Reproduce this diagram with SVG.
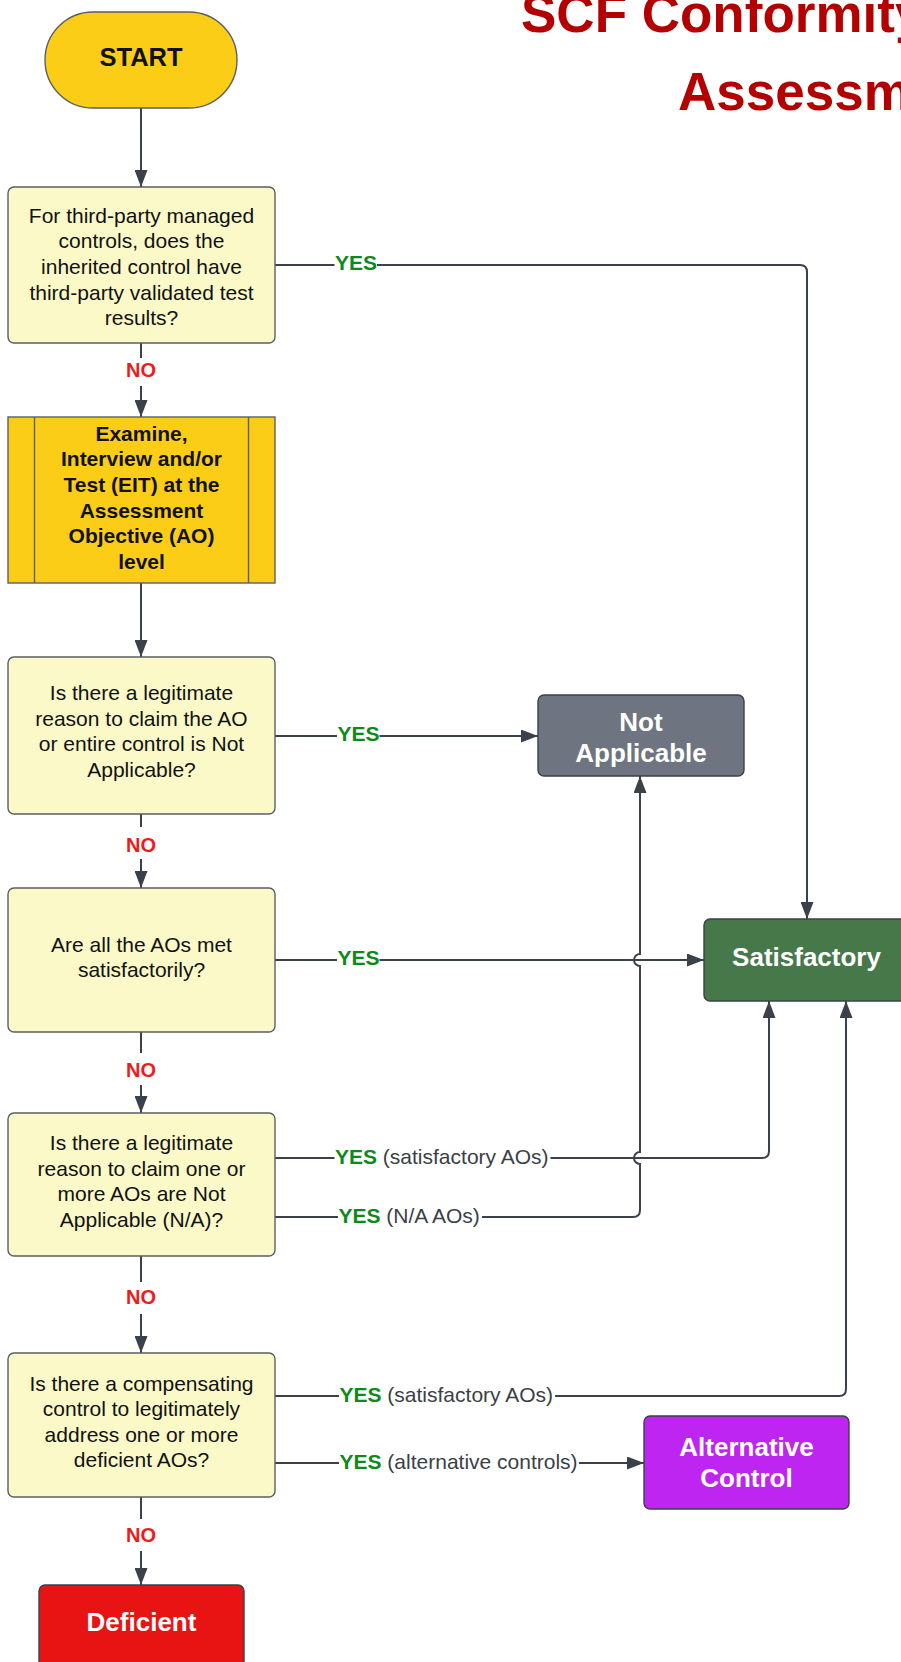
<svg xmlns="http://www.w3.org/2000/svg" width="901" height="1662" viewBox="0 0 901 1662">
<style>
.q{fill:#fbf9c8;stroke:#5a5f66;stroke-width:1.4}
.t{font-family:"Liberation Sans",Arial,sans-serif;font-size:21px;fill:#111;text-anchor:middle}
.tb{font-family:"Liberation Sans",Arial,sans-serif;font-size:21px;font-weight:bold;fill:#111;text-anchor:middle}
.w{font-family:"Liberation Sans",Arial,sans-serif;font-size:26px;font-weight:bold;fill:#fff;text-anchor:middle}
.c{fill:none;stroke:#3a414a;stroke-width:2}
.bg{fill:#fff}
.yes{font-family:"Liberation Sans",Arial,sans-serif;font-size:21px;font-weight:bold;fill:#0c8a1a}
.sub{font-weight:normal;fill:#3a3f45}
.no{font-family:"Liberation Sans",Arial,sans-serif;font-size:20px;font-weight:bold;fill:#ee1b1b;text-anchor:middle}
.title{font-family:"Liberation Sans",Arial,sans-serif;font-size:53px;font-weight:bold;fill:#b30000}
</style>
<defs>
<marker id="arr" viewBox="0 0 17 13" refX="17" refY="6.5" markerWidth="17" markerHeight="13" markerUnits="userSpaceOnUse" orient="auto">
<path d="M0,0 L17,6.5 L0,13 Z" fill="#3a414a"/>
</marker>
</defs>

<g id="title">
<text class="title" x="521" y="32">SCF Conformity</text>
<text class="title" x="678" y="110">Assessm</text>
</g>

<g id="connectors">
<path class="c" d="M141 108 V187" marker-end="url(#arr)"/>
<path class="c" d="M141 343 V417" marker-end="url(#arr)"/>
<path class="c" d="M141 583 V657" marker-end="url(#arr)"/>
<path class="c" d="M141 814 V888" marker-end="url(#arr)"/>
<path class="c" d="M141 1032 V1113" marker-end="url(#arr)"/>
<path class="c" d="M141 1256 V1353" marker-end="url(#arr)"/>
<path class="c" d="M141 1497 V1585" marker-end="url(#arr)"/>
<path class="c" d="M275 265 H800 Q807 265 807 272 V919" marker-end="url(#arr)"/>
<path class="c" d="M275 736 H538" marker-end="url(#arr)"/>
<path class="c" d="M275 960 H704" marker-end="url(#arr)"/>
<path class="c" d="M275 1158 H762 Q769 1158 769 1151 V1001" marker-end="url(#arr)"/>
<path class="c" d="M275 1217 H633 Q640 1217 640 1210 V1164 A6 6 0 0 1 640 1152 V966 A6 6 0 0 1 640 954 V776" marker-end="url(#arr)"/>
<path class="c" d="M275 1396 H839 Q846 1396 846 1389 V1001" marker-end="url(#arr)"/>
<path class="c" d="M275 1463 H644" marker-end="url(#arr)"/>
</g>

<g id="labels">
<rect class="bg" x="334.5" y="253" width="42.5" height="24"/>
<text class="yes" x="335" y="270">YES</text>
<rect class="bg" x="337" y="724" width="42.5" height="24"/>
<text class="yes" x="337.5" y="741">YES</text>
<rect class="bg" x="337" y="948" width="42.5" height="24"/>
<text class="yes" x="337.5" y="965">YES</text>
<rect class="bg" x="334.5" y="1146" width="216" height="26"/>
<text class="yes" x="335" y="1164">YES <tspan class="sub">(satisfactory AOs)</tspan></text>
<rect class="bg" x="338" y="1205" width="144" height="26"/>
<text class="yes" x="338.5" y="1223">YES <tspan class="sub">(N/A AOs)</tspan></text>
<rect class="bg" x="339" y="1384" width="216" height="26"/>
<text class="yes" x="339.5" y="1402">YES <tspan class="sub">(satisfactory AOs)</tspan></text>
<rect class="bg" x="339" y="1451" width="240" height="26"/>
<text class="yes" x="339.5" y="1469">YES <tspan class="sub">(alternative controls)</tspan></text>
<rect class="bg" x="122" y="358" width="38" height="28"/>
<text class="no" x="141" y="377">NO</text>
<rect class="bg" x="122" y="827" width="38" height="32"/>
<text class="no" x="141" y="851.5">NO</text>
<rect class="bg" x="122" y="1053" width="38" height="32"/>
<text class="no" x="141" y="1077">NO</text>
<rect class="bg" x="122" y="1282" width="38" height="32"/>
<text class="no" x="141" y="1304">NO</text>
<rect class="bg" x="122" y="1519" width="38" height="32"/>
<text class="no" x="141" y="1541.5">NO</text>
</g>

<g id="start">
<rect x="45" y="12" width="192" height="96" rx="48" fill="#fbcd17" stroke="#5a5f66" stroke-width="1.4"/>
<text class="tb" x="141" y="65.5" style="font-size:25.5px">START</text>
</g>

<g id="q1">
<rect class="q" x="8" y="187" width="267" height="156" rx="6"/>
<text class="t" x="141.5" y="222.7">For third-party managed</text>
<text class="t" x="141.5" y="248.3">controls, does the</text>
<text class="t" x="141.5" y="273.9">inherited control have</text>
<text class="t" x="141.5" y="299.5">third-party validated test</text>
<text class="t" x="141.5" y="325.1">results?</text>
</g>

<g id="eit">
<rect x="8" y="417" width="267" height="166" fill="#fbcd17" stroke="#5a5f66" stroke-width="1.4"/>
<line x1="34.5" y1="417" x2="34.5" y2="583" stroke="#5a5f66" stroke-width="1.4"/>
<line x1="248.5" y1="417" x2="248.5" y2="583" stroke="#5a5f66" stroke-width="1.4"/>
<text class="tb" x="141.5" y="440.5">Examine,</text>
<text class="tb" x="141.5" y="466.2">Interview and/or</text>
<text class="tb" x="141.5" y="491.9">Test (EIT) at the</text>
<text class="tb" x="141.5" y="517.6">Assessment</text>
<text class="tb" x="141.5" y="543.3">Objective (AO)</text>
<text class="tb" x="141.5" y="569">level</text>
</g>

<g id="q2">
<rect class="q" x="8" y="657" width="267" height="157" rx="6"/>
<text class="t" x="141.5" y="700">Is there a legitimate</text>
<text class="t" x="141.5" y="725.6">reason to claim the AO</text>
<text class="t" x="141.5" y="751.2">or entire control is Not</text>
<text class="t" x="141.5" y="776.8">Applicable?</text>
</g>

<g id="q3">
<rect class="q" x="8" y="888" width="267" height="144" rx="6"/>
<text class="t" x="141.5" y="951.7">Are all the AOs met</text>
<text class="t" x="141.5" y="977.3">satisfactorily?</text>
</g>

<g id="q4">
<rect class="q" x="8" y="1113" width="267" height="143" rx="6"/>
<text class="t" x="141.5" y="1150">Is there a legitimate</text>
<text class="t" x="141.5" y="1175.6">reason to claim one or</text>
<text class="t" x="141.5" y="1201.2">more AOs are Not</text>
<text class="t" x="141.5" y="1226.8">Applicable (N/A)?</text>
</g>

<g id="q5">
<rect class="q" x="8" y="1353" width="267" height="144" rx="6"/>
<text class="t" x="141.5" y="1390.6">Is there a compensating</text>
<text class="t" x="141.5" y="1416.2">control to legitimately</text>
<text class="t" x="141.5" y="1441.8">address one or more</text>
<text class="t" x="141.5" y="1467.4">deficient AOs?</text>
</g>

<g id="not-applicable">
<rect x="538" y="695" width="206" height="81" rx="6" fill="#6e7480" stroke="#3a414a" stroke-width="1.4"/>
<text class="w" x="641" y="731">Not</text>
<text class="w" x="641" y="762">Applicable</text>
</g>

<g id="satisfactory">
<rect x="704" y="919" width="205" height="82" rx="6" fill="#46784a" stroke="#3a414a" stroke-width="1.4"/>
<text class="w" x="806.5" y="966">Satisfactory</text>
</g>

<g id="alternative-control">
<rect x="644" y="1416" width="205" height="93" rx="6" fill="#bf25f1" stroke="#3a414a" stroke-width="1.4"/>
<text class="w" x="746.5" y="1456">Alternative</text>
<text class="w" x="746.5" y="1487">Control</text>
</g>

<g id="deficient">
<rect x="39" y="1585" width="205" height="95" rx="6" fill="#e81414" stroke="#3a414a" stroke-width="1.4"/>
<text class="w" x="141.5" y="1630.5">Deficient</text>
</g>
</svg>
